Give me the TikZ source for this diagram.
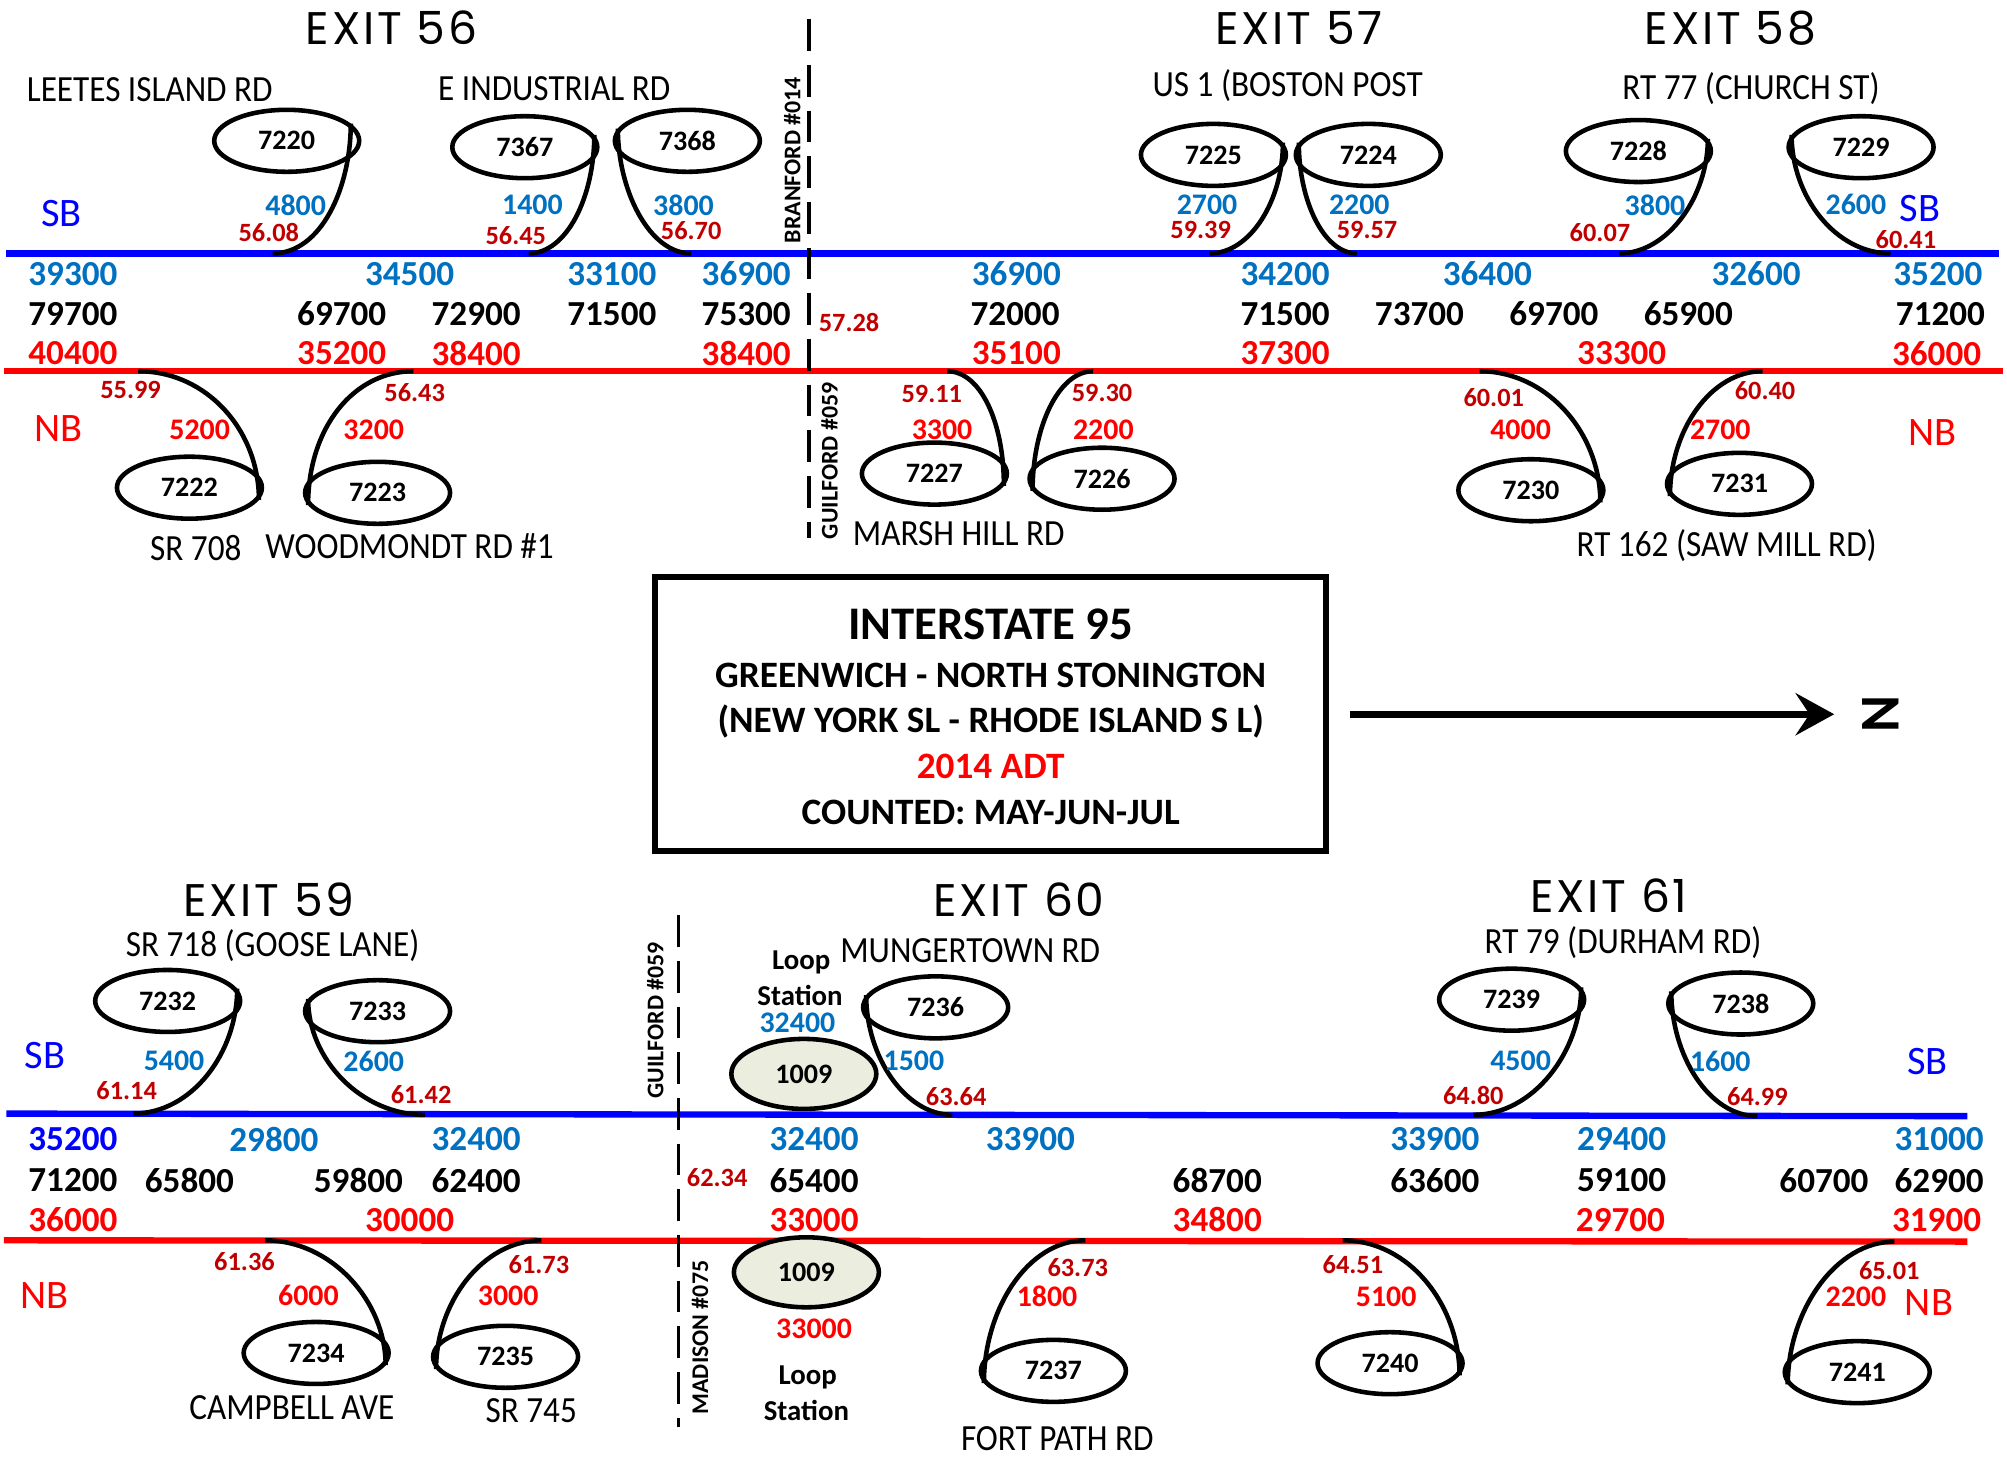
\documentclass[tikz,border=0pt]{standalone}
\usepackage{fontspec}
\setmainfont{Carlito}
\newfontfamily\roadfont[FakeStretch=0.9]{Carlito}
\newfontfamily\exitfont[LetterSpace=6]{Poppins}
\usepackage{tikz}
\usetikzlibrary{shapes.geometric,arrows.meta}

\definecolor{sbblue}{RGB}{0,112,192}
\definecolor{lineblue}{RGB}{0,0,255}
\definecolor{milered}{RGB}{192,0,0}
\definecolor{loopfill}{RGB}{235,238,222}

\tikzset{
	sbroad/.style={draw=lineblue, line width=1.8pt},
	nbroad/.style={draw=red, line width=1.8pt},
	townline/.style={line width=0.9pt, dash pattern=on 9pt off 4pt},
	station/.style={ellipse, draw, line width=1.3pt, minimum width=1.45cm, minimum height=0.62cm, inner sep=0pt, font=\bfseries\fontsize{8}{9}\selectfont},
	loopst/.style={station, fill=loopfill, minimum height=0.7cm},
	ramp/.style={line width=1.3pt},
	adtsb/.style={font=\bfseries\fontsize{10}{11}\selectfont, text=sbblue},
	adttot/.style={font=\bfseries\fontsize{10}{11}\selectfont},
	adtnb/.style={font=\bfseries\fontsize{10}{11}\selectfont, text=red},
	volsb/.style={font=\bfseries\fontsize{8.5}{10}\selectfont, text=sbblue},
	volnb/.style={font=\bfseries\fontsize{8.5}{10}\selectfont, text=red},
	mile/.style={font=\bfseries\fontsize{7.5}{9}\selectfont, text=milered},
	road/.style={font=\roadfont\fontsize{10.5}{12}\selectfont},
	exitlbl/.style={font=\exitfont\fontsize{13}{15}\selectfont},
	dirlbl/.style={font=\fontsize{11.5}{13}\selectfont},
	town/.style={rotate=90, font=\bfseries\fontsize{6.8}{8}\selectfont},
	loopword/.style={font=\bfseries\fontsize{8.2}{10}\selectfont}
}

\begin{document}
\begin{tikzpicture}[x=0.0128cm, y=-0.0128cm]
	\useasboundingbox (0,0) rectangle (1568,1141);

	%%%%% TOP HALF: EXITS 56 - 58
	% Roads
	\draw[sbroad] (5,198) -- (1562,198);
	\draw[nbroad] (3,290) -- (1565,290);

	% Town line
	\draw[townline] (632,15) -- (632,420);
	\node[town] (tBran) at (619,125) {BRANFORD \#014};
	\node[town] (tGuilA) at (648,360) {GUILFORD \#059};
	\node[mile, anchor=west] (m5728) at (630,252) {57.28};

	% Exit headings
	\node[exitlbl] (x56) at (306,22) {EXIT 56};
	\node[exitlbl] (x57) at (1015,22) {EXIT 57};
	\node[exitlbl] (x58) at (1352,22) {EXIT 58};

	% Road names
	\node[road] (rLeetes) at (117,70) {LEETES ISLAND RD};
	\node[road] (rEInd) at (433,69) {E INDUSTRIAL RD};
	\node[road] (rUSone) at (1006,67) {US 1 (BOSTON POST};
	\node[road] (rRTsvn) at (1368,69) {RT 77 (CHURCH ST)};
	\node[road] (rSRsev) at (153,428) {SR 708};
	\node[road] (rWood) at (320,427) {WOODMONDT RD \#1};
	\node[road] (rMarsh) at (749,417) {MARSH HILL RD};
	\node[road] (rSaw) at (1349,426) {RT 162 (SAW MILL RD)};

	% SB / NB
	\node[dirlbl, text=lineblue] (sbA) at (48,167) {SB};
	\node[dirlbl, text=lineblue] (sbB) at (1500,163) {SB};
	\node[dirlbl, text=red] (nbA) at (46,335) {NB};
	\node[dirlbl, text=red] (nbB) at (1510,338) {NB};

	% Count stations
	\node[station] (e7220) at (224,110) {7220};
	\node[station] (e7367) at (410,115) {7367};
	\node[station] (e7368) at (537,110) {7368};
	\node[station] (e7225) at (948,121) {7225};
	\node[station] (e7224) at (1069,121) {7224};
	\node[station] (e7228) at (1280,118) {7228};
	\node[station] (e7229) at (1454,115) {7229};
	\node[station] (e7222) at (148,381) {7222};
	\node[station] (e7223) at (295,385) {7223};
	\node[station] (e7227) at (730,370) {7227};
	\node[station] (e7226) at (861,374) {7226};
	\node[station] (e7230) at (1196,383) {7230};
	\node[station] (e7231) at (1359,378) {7231};

	% Ramp ends on the roads
	\coordinate (j7220) at (213,198);
	\coordinate (j7367) at (413,198);
	\coordinate (j7368) at (540,198);
	\coordinate (j7225) at (945,198);
	\coordinate (j7224) at (1060,198);
	\coordinate (j7228) at (1265,198);
	\coordinate (j7229) at (1477,198);
	\coordinate (j7222) at (108,290);
	\coordinate (j7223) at (323,290);
	\coordinate (j7227) at (740,290);
	\coordinate (j7226) at (854,290);
	\coordinate (j7230) at (1156,290);
	\coordinate (j7231) at (1377,290);

	% Ramps
	\draw[ramp] (e7220.15) .. controls +(0,50) and +(38,0) .. (j7220);
	\draw[ramp] (e7367.10) .. controls +(0,48) and +(30,0) .. (j7367);
	\draw[ramp] (e7368.170) .. controls +(0,48) and +(-33,0) .. (j7368);
	\draw[ramp] (e7225.10) .. controls +(0,45) and +(32,0) .. (j7225);
	\draw[ramp] (e7224.170) .. controls +(0,45) and +(-26,0) .. (j7224);
	\draw[ramp] (e7228.10) .. controls +(0,45) and +(38,0) .. (j7228);
	\draw[ramp] (e7229.170) .. controls +(0,48) and +(-43,0) .. (j7229);
	\draw[ramp] (e7222.-10) .. controls +(0,-55) and +(53,0) .. (j7222);
	\draw[ramp] (e7223.190) .. controls +(0,-60) and +(-47,0) .. (j7223);
	\draw[ramp] (e7227.-10) .. controls +(0,-50) and +(26,0) .. (j7227);
	\draw[ramp] (e7226.190) .. controls +(0,-50) and +(-27,0) .. (j7226);
	\draw[ramp] (e7230.-10) .. controls +(0,-55) and +(52,0) .. (j7230);
	\draw[ramp] (e7231.190) .. controls +(0,-52) and +(-40,0) .. (j7231);

	% Ramp volumes and mileposts
	\node[volsb] (v7220) at (231,160) {4800};
	\node[mile] (m7220) at (210,182) {56.08};
	\node[volsb] (v7367) at (416,160) {1400};
	\node[mile] (m7367) at (403,184) {56.45};
	\node[volsb] (v7368) at (534,160) {3800};
	\node[mile] (m7368) at (540,180) {56.70};
	\node[volsb] (v7225) at (943,160) {2700};
	\node[mile] (m7225) at (938,180) {59.39};
	\node[volsb] (v7224) at (1062,160) {2200};
	\node[mile] (m7224) at (1068,180) {59.57};
	\node[volsb] (v7228) at (1293,160) {3800};
	\node[mile] (m7228) at (1250,182) {60.07};
	\node[volsb] (v7229) at (1450,160) {2600};
	\node[mile] (m7229) at (1489,187) {60.41};
	\node[mile] (m7222) at (102,305) {55.99};
	\node[volnb] (v7222) at (156,336) {5200};
	\node[mile] (m7223) at (324,307) {56.43};
	\node[volnb] (v7223) at (292,336) {3200};
	\node[mile] (m7227) at (728,308) {59.11};
	\node[volnb] (v7227) at (736,336) {3300};
	\node[mile] (m7226) at (861,307) {59.30};
	\node[volnb] (v7226) at (862,336) {2200};
	\node[mile] (m7230) at (1167,311) {60.01};
	\node[volnb] (v7230) at (1188,336) {4000};
	\node[mile] (m7231) at (1379,305) {60.40};
	\node[volnb] (v7231) at (1344,336) {2700};

	% Mainline ADT: SB, total, NB
	\node[adtsb] (tS1) at (57,214) {39300};
	\node[adtsb] (tS2) at (320,214) {34500};
	\node[adtsb] (tS3) at (478,214) {33100};
	\node[adtsb] (tS4) at (583,214) {36900};
	\node[adtsb] (tS5) at (794,214) {36900};
	\node[adtsb] (tS6) at (1004,214) {34200};
	\node[adtsb] (tS7) at (1162,214) {36400};
	\node[adtsb] (tS8) at (1372,214) {32600};
	\node[adtsb] (tS9) at (1514,214) {35200};

	\node[adttot] (tT1) at (57,245) {79700};
	\node[adttot] (tT2) at (267,245) {69700};
	\node[adttot] (tT3) at (372,245) {72900};
	\node[adttot] (tT4) at (478,245) {71500};
	\node[adttot] (tT5) at (583,245) {75300};
	\node[adttot] (tT6) at (793,245) {72000};
	\node[adttot] (tT7) at (1004,245) {71500};
	\node[adttot] (tT8) at (1109,245) {73700};
	\node[adttot] (tT9) at (1214,245) {69700};
	\node[adttot] (tT10) at (1319,245) {65900};
	\node[adttot] (tT11) at (1516,245) {71200};

	\node[adtnb] (tN1) at (57,276) {40400};
	\node[adtnb] (tN2) at (267,276) {35200};
	\node[adtnb] (tN3) at (372,276) {38400};
	\node[adtnb] (tN4) at (583,276) {38400};
	\node[adtnb] (tN5) at (794,276) {35100};
	\node[adtnb] (tN6) at (1004,276) {37300};
	\node[adtnb] (tN7) at (1267,276) {33300};
	\node[adtnb] (tN8) at (1513,276) {36000};

	%%%%% TITLE BOX AND NORTH ARROW
	\node[draw, line width=1.6pt, minimum width=6.71cm, minimum height=2.74cm] (legend) at (774,558) {};
	\node[font=\bfseries\fontsize{13.3}{15}\selectfont] (lgA) at (774,488) {INTERSTATE 95};
	\node[font=\bfseries\fontsize{10.6}{12}\selectfont] (lgB) at (774,528) {GREENWICH - NORTH STONINGTON};
	\node[font=\bfseries\fontsize{10.6}{12}\selectfont] (lgC) at (774,564) {(NEW YORK SL - RHODE ISLAND S L)};
	\node[font=\bfseries\fontsize{10.6}{12}\selectfont, text=red] (lgD) at (774,599) {2014 ADT};
	\node[font=\bfseries\fontsize{10.6}{12}\selectfont] (lgE) at (774,635) {COUNTED: MAY-JUN-JUL};

	\coordinate (arrS) at (1055,558);
	\coordinate (arrE) at (1433,558);
	\draw[line width=1.9pt, -{Stealth[length=11pt, width=12pt, inset=4pt]}] (arrS) -- (arrE);
	\node[rotate=-90, font=\bfseries\fontsize{16}{18}\selectfont] (north) at (1469,558) {N};

	%%%%% BOTTOM HALF: EXITS 59 - 61
	% Roads
	\draw[sbroad] (5,870) -- (1537,872);
	\draw[nbroad] (3,969) -- (1537,970);

	% Town line
	\draw[townline] (530,715) -- (530,1115);
	\node[town] (tGuilB) at (512,797) {GUILFORD \#059};
	\node[town] (tMad) at (547,1045) {MADISON \#075};
	\node[mile, anchor=west] (m6234) at (527,920) {62.34};

	% Exit headings
	\node[exitlbl] (x59) at (210,703) {EXIT 59};
	\node[exitlbl] (x60) at (796,703) {EXIT 60};
	\node[exitlbl] (x61) at (1257,700) {EXIT 61};

	% Road names
	\node[road] (rGoose) at (213,739) {SR 718 (GOOSE LANE)};
	\node[road] (rMunger) at (758,743) {MUNGERTOWN RD};
	\node[road] (rDurham) at (1268,736) {RT 79 (DURHAM RD)};
	\node[road] (rCamp) at (228,1100) {CAMPBELL AVE};
	\node[road] (rSRsvf) at (415,1102) {SR 745};
	\node[road] (rFort) at (826,1124) {FORT PATH RD};

	% SB / NB
	\node[dirlbl, text=lineblue] (sbC) at (35,825) {SB};
	\node[dirlbl, text=lineblue] (sbD) at (1506,829) {SB};
	\node[dirlbl, text=red] (nbC) at (35,1012) {NB};
	\node[dirlbl, text=red] (nbD) at (1507,1018) {NB};

	% Loop stations
	\node[loopword] (lpA) at (626,752) {Loop};
	\node[loopword] (lsA) at (625,778) {Station};
	\node[volsb] (lvA) at (623,799) {32400};
	\node[loopst] (loopS) at (628,839) {1009};
	\node[loopst] (loopN) at (630,994) {1009};
	\node[volnb] (lvB) at (636,1038) {33000};
	\node[loopword] (lpB) at (631,1076) {Loop};
	\node[loopword] (lsB) at (630,1102) {Station};

	% Count stations
	\node[station] (e7232) at (131,782) {7232};
	\node[station] (e7233) at (295,790) {7233};
	\node[station] (e7236) at (731,787) {7236};
	\node[station] (e7239) at (1181,781) {7239};
	\node[station] (e7238) at (1360,784) {7238};
	\node[station] (e7234) at (247,1057) {7234};
	\node[station] (e7235) at (395,1060) {7235};
	\node[station] (e7237) at (823,1071) {7237};
	\node[station] (e7240) at (1086,1065) {7240};
	\node[station] (e7241) at (1451,1072) {7241};

	% Ramp ends on the roads
	\coordinate (j7232) at (104,870);
	\coordinate (j7233) at (332,871);
	\coordinate (j7236) at (744,871);
	\coordinate (j7239) at (1151,871);
	\coordinate (j7238) at (1373,872);
	\coordinate (j7234) at (207,969);
	\coordinate (j7235) at (423,969);
	\coordinate (j7237) at (848,969);
	\coordinate (j7240) at (1049,969);
	\coordinate (j7241) at (1480,970);

	% Ramps
	\draw[ramp] (e7232.10) .. controls +(0,50) and +(46,0) .. (j7232);
	\draw[ramp] (e7233.170) .. controls +(0,47) and +(-50,0) .. (j7233);
	\draw[ramp] (e7236.170) .. controls +(0,48) and +(-37,0) .. (j7236);
	\draw[ramp] (e7239.10) .. controls +(0,50) and +(47,0) .. (j7239);
	\draw[ramp] (e7238.170) .. controls +(0,50) and +(-38,0) .. (j7238);
	\draw[ramp] (e7234.-10) .. controls +(0,-50) and +(52,0) .. (j7234);
	\draw[ramp] (e7235.190) .. controls +(0,-52) and +(-46,0) .. (j7235);
	\draw[ramp] (e7237.190) .. controls +(0,-58) and +(-45,0) .. (j7237);
	\draw[ramp] (e7240.-10) .. controls +(0,-55) and +(52,0) .. (j7240);
	\draw[ramp] (e7241.190) .. controls +(0,-57) and +(-46,0) .. (j7241);

	% Ramp volumes and mileposts
	\node[volsb] (v7232) at (136,829) {5400};
	\node[mile] (m7232) at (99,852) {61.14};
	\node[volsb] (v7233) at (292,829) {2600};
	\node[mile] (m7233) at (329,855) {61.42};
	\node[volsb] (v7236) at (714,829) {1500};
	\node[mile] (m7236) at (747,857) {63.64};
	\node[volsb] (v7239) at (1188,829) {4500};
	\node[mile] (m7239) at (1151,856) {64.80};
	\node[volsb] (v7238) at (1344,829) {1600};
	\node[mile] (m7238) at (1373,857) {64.99};
	\node[mile] (m7234) at (191,986) {61.36};
	\node[volnb] (v7234) at (241,1012) {6000};
	\node[mile] (m7235) at (421,988) {61.73};
	\node[volnb] (v7235) at (397,1012) {3000};
	\node[mile] (m7237) at (842,990) {63.73};
	\node[volnb] (v7237) at (818,1013) {1800};
	\node[mile] (m7240) at (1057,988) {64.51};
	\node[volnb] (v7240) at (1083,1013) {5100};
	\node[mile] (m7241) at (1476,993) {65.01};
	\node[volnb] (v7241) at (1450,1013) {2200};

	% Mainline ADT: SB, total, NB
	\node[adtsb, text=lineblue] (bS1) at (57,890) {35200};
	\node[adtsb] (bS2) at (214,890) {29800};
	\node[adtsb] (bS3) at (372,890) {32400};
	\node[adtsb] (bS4) at (636,890) {32400};
	\node[adtsb] (bS5) at (805,890) {33900};
	\node[adtsb] (bS6) at (1121,890) {33900};
	\node[adtsb] (bS7) at (1267,890) {29400};
	\node[adtsb] (bS8) at (1515,890) {31000};

	\node[adttot] (bT1) at (57,922) {71200};
	\node[adttot] (bT2) at (148,922) {65800};
	\node[adttot] (bT3) at (280,922) {59800};
	\node[adttot] (bT4) at (372,922) {62400};
	\node[adttot] (bT5) at (636,922) {65400};
	\node[adttot] (bT6) at (951,922) {68700};
	\node[adttot] (bT7) at (1121,922) {63600};
	\node[adttot] (bT8) at (1267,922) {59100};
	\node[adttot] (bT9) at (1425,922) {60700};
	\node[adttot] (bT10) at (1515,922) {62900};

	\node[adtnb] (bN1) at (57,953) {36000};
	\node[adtnb] (bN2) at (320,953) {30000};
	\node[adtnb] (bN3) at (636,953) {33000};
	\node[adtnb] (bN4) at (951,953) {34800};
	\node[adtnb] (bN5) at (1266,953) {29700};
	\node[adtnb] (bN6) at (1513,953) {31900};

\end{tikzpicture}
\end{document}
